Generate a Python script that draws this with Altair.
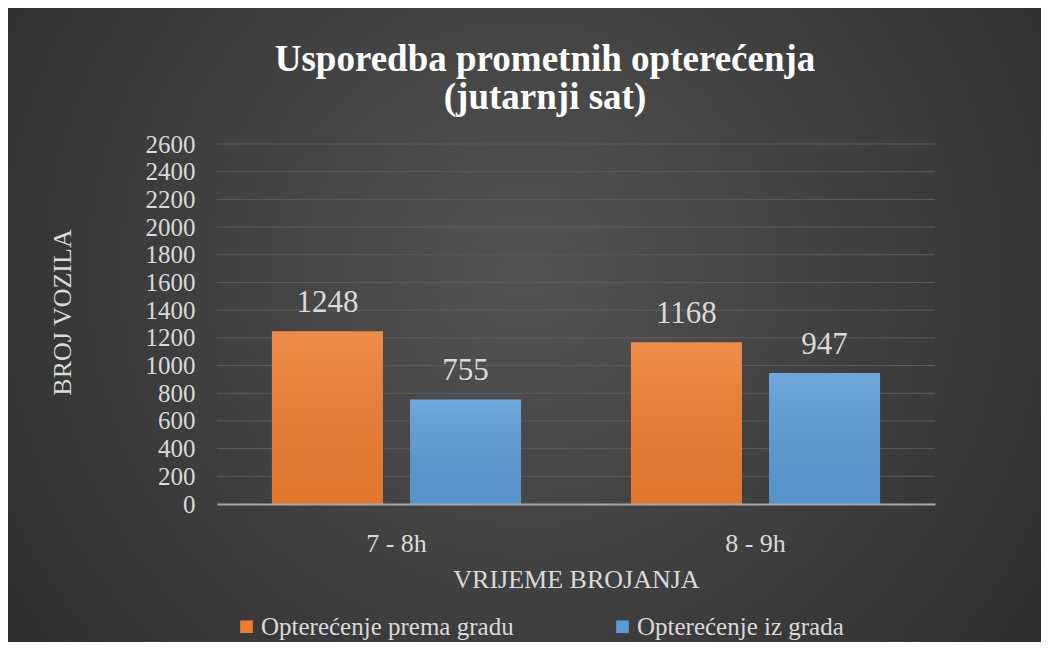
import altair as alt
import pandas as pd

categories = ["7 - 8h", "8 - 9h"]
series = ["Opterećenje prema gradu", "Opterećenje iz grada"]
values_prema = [1248, 1168]
values_iz = [755, 947]
y_ticks = [0, 200, 400, 600, 800, 1000, 1200, 1400, 1600, 1800, 2000, 2200, 2400, 2600]
title_lines = ["Usporedba prometnih opterećenja", "(jutarnji sat)"]

rows = []
for i, c in enumerate(categories):
    rows.append({"vrijeme": c, "serija": series[0], "broj": values_prema[i]})
    rows.append({"vrijeme": c, "serija": series[1], "broj": values_iz[i]})
df = pd.DataFrame(rows)
grid_df = pd.DataFrame({"broj": y_ticks[1:]})
one_df = pd.DataFrame({"a": [0]})

W, H = 718, 360
PL, PT, PR, PB = 209, 136, 106, 138
FONT = "Liberation Serif"
LABEL = "#d9d9d9"

x_axis = alt.Axis(title="VRIJEME BROJANJA", labelAngle=0, ticks=False,
                  domainColor="#a6a6a6", domainWidth=2,
                  labelFont=FONT, labelFontSize=26, labelColor=LABEL,
                  labelPadding=26, titleFont=FONT, titleFontSize=26,
                  titleFontWeight="normal", titleColor=LABEL,
                  titlePadding=10, zindex=1)
y_axis = alt.Axis(title="BROJ VOZILA", values=y_ticks, format="d", labelOverlap=False,
                  grid=False, ticks=False, domain=False,
                  labelFont=FONT, labelFontSize=25, labelColor=LABEL, labelPadding=22,
                  titleFont=FONT, titleFontSize=26, titleFontWeight="normal", titleColor=LABEL,
                  titleX=-155, titleY=168, titleAngle=270, titleAlign="center",
                  titleBaseline="middle", zindex=1)
x_scale = alt.Scale(paddingInner=0.306, paddingOuter=0.153)
y_scale = alt.Scale(domain=[0, 2600], nice=False)
x_enc = alt.X("vrijeme:N", sort=categories, scale=x_scale, axis=x_axis)
y_enc = alt.Y("broj:Q", scale=y_scale, axis=y_axis)
xoff = alt.XOffset("serija:N", sort=series, scale=alt.Scale(paddingInner=0.196, paddingOuter=0))

bg = alt.Chart(one_df).mark_rect(
    fill={"gradient": "radial", "x1": 0.5, "y1": 0.45, "r1": 0, "x2": 0.5, "y2": 0.45, "r2": 0.75,
          "stops": [{"offset": 0, "color": "#535353"}, {"offset": 1, "color": "#262626"}]}
).encode(x=alt.value(-PL), x2=alt.value(W + PR), y=alt.value(-PT), y2=alt.value(H + PB))

title = alt.Chart(one_df).mark_text(
    font=FONT, fontSize=37, fontWeight="bold", color="#ffffff",
    align="center", baseline="alphabetic", lineHeight=38
).encode(x=alt.value(545 - 8 - PL), y=alt.value(71 - 8 - PT), text=alt.value(title_lines))

grid = alt.Chart(grid_df).mark_rule(color="#5c5c5c", strokeWidth=1).encode(y=y_enc)

bars = alt.Chart(df).mark_bar().encode(
    x=x_enc,
    xOffset=xoff,
    y=y_enc,
    color=alt.Color("serija:N", sort=series,
                    scale=alt.Scale(domain=series, range=["#ED7D31", "#5B9BD5"]),
                    legend=alt.Legend(title=None, orient="none", legendX=17, legendY=470,
                                      direction="horizontal", symbolType="square", symbolSize=160,
                                      symbolStrokeWidth=0, labelFont=FONT, labelFontSize=25,
                                      labelColor=LABEL, labelLimit=0, labelOffset=2,
                                      columnPadding=96)),
)

shade = alt.Chart(df).mark_bar(
    fill={"gradient": "linear", "x1": 0, "y1": 0, "x2": 0, "y2": 1,
          "stops": [{"offset": 0, "color": "rgba(255,255,255,0.12)"},
                    {"offset": 1, "color": "rgba(0,0,0,0.05)"}]}
).encode(x=x_enc, xOffset=xoff, y=y_enc)

labels = alt.Chart(df).mark_text(font=FONT, fontSize=31, color=LABEL, dy=-19,
                                 baseline="alphabetic").encode(
    x=x_enc, xOffset=xoff, y=y_enc, text=alt.Text("broj:Q")
)

chart = alt.layer(bg, grid, bars, shade, labels, title).properties(
    width=W, height=H,
    autosize=alt.AutoSizeParams(type="none"),
    padding={"left": PL, "top": PT, "right": PR, "bottom": PB},
    background="#262626",
).configure(font=FONT).configure_view(stroke=None)

chart.save("out.html", embed_options={"renderer": "svg", "actions": False})
